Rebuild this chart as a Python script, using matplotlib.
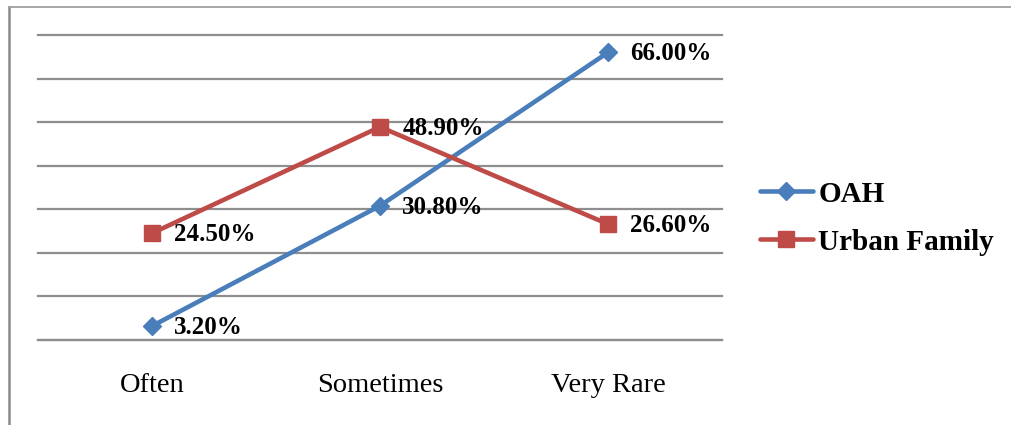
import matplotlib.pyplot as plt
from matplotlib.lines import Line2D
import numpy as np

categories = ["Often", "Sometimes", "Very Rare"]
oah = [3.2, 30.8, 66.0]
urban = [24.5, 48.9, 26.6]

plt.rcParams['font.family'] = ['Liberation Serif', 'DejaVu Serif']

blue = '#4a7ebb'
red = '#be4b48'
grid_col = '#8e8e8e'

fig = plt.figure(figsize=(10.11, 4.25), dpi=100)
ax = fig.add_axes([38/1011, 1 - 340/425, (722-38)/1011, (340-35)/425])

x = np.arange(len(categories))

ax.plot(x, oah, color=blue, lw=3.3, marker='D', ms=9, mfc=blue, mec=blue,
        label="OAH", zorder=3, solid_capstyle='round')
ax.plot(x, urban, color=red, lw=3.3, marker='s', ms=11, mfc=red, mec=red,
        label="Urban Family", zorder=3, solid_capstyle='round')

# value labels to the right of each point
for xi, v in zip(x, oah):
    ax.annotate(f"{v:.2f}%", (xi, v), xytext=(16, -1), textcoords='offset points',
                ha='left', va='center', fontsize=18, fontweight='bold')
for xi, v in zip(x, urban):
    ax.annotate(f"{v:.2f}%", (xi, v), xytext=(16, -1), textcoords='offset points',
                ha='left', va='center', fontsize=18, fontweight='bold')

ax.set_xlim(-0.5, 2.5)
ax.set_ylim(0, 70)
ax.set_yticks(np.arange(0, 71, 10))
ax.yaxis.grid(True, color=grid_col, lw=1.6)
for gl in ax.get_ygridlines():
    gl.set_clip_on(False)
ax.set_axisbelow(True)
ax.tick_params(left=False, labelleft=False, bottom=False)
ax.set_xticks(x)
ax.set_xticklabels(categories, fontsize=20.5)
ax.tick_params(axis='x', pad=20)
for s in ['top', 'right', 'left']:
    ax.spines[s].set_visible(False)
ax.spines['bottom'].set_color(grid_col)
ax.spines['bottom'].set_linewidth(1.6)

ax.legend(loc='center left', bbox_to_anchor=((760-38)/684, 0.4), frameon=False,
          prop={'size': 21, 'weight': 'bold'}, handlelength=1.8,
          handletextpad=0.2, labelspacing=0.72, borderpad=0, borderaxespad=0)

# outer chart frame
fig.add_artist(Line2D([9/1011, 9/1011], [0, 1 - 7/425], transform=fig.transFigure,
                      color='#8a8a8a', lw=1.8))
fig.add_artist(Line2D([9/1011, 1], [1 - 7/425, 1 - 7/425], transform=fig.transFigure,
                      color='#a0a0a0', lw=1.3))

fig.savefig("out.png", dpi=100)
